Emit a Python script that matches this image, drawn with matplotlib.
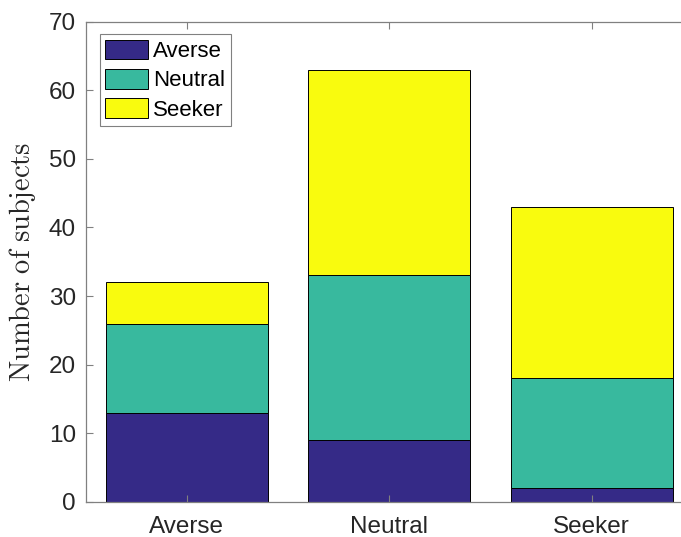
import numpy as np
import matplotlib.pyplot as plt

plt.rcParams['font.family'] = ['Liberation Sans', 'DejaVu Sans']
plt.rcParams['mathtext.fontset'] = 'cm'

# subject counts per group, stacked by sub-type
groups = ['Averse', 'Neutral', 'Seeker']
averse = [13, 9, 2]
neutral = [13, 24, 16]
seeker = [6, 30, 25]
colors = ['#352a87', '#38b99e', '#f9fb0e']

fig = plt.figure(figsize=(6.81, 5.37), dpi=100)
ax = fig.add_axes([85.5 / 681, 35 / 537, 607.5 / 681, 480.5 / 537])

x = np.arange(1, len(groups) + 1)
bottom = np.zeros(len(groups))
for vals, c, name in zip([averse, neutral, seeker], colors, groups):
    ax.bar(x, vals, 0.8, bottom=bottom, color=c, edgecolor='black',
           linewidth=0.7, label=name)
    bottom += np.array(vals)

ax.set_xlim(0.5, 3.5)
ax.set_ylim(0, 70)
ax.set_xticks(x)
ax.set_xticklabels(groups)
ax.set_yticks(np.arange(0, 71, 10))
ax.tick_params(direction='in', length=5, width=0.8, colors='#808080',
               labelcolor='#262626', labelsize=17.5, top=True, right=True, pad=7)
ax.tick_params(axis='x', pad=10)
for s in ax.spines.values():
    s.set_color('#808080')
    s.set_linewidth(0.9)

ax.set_ylabel(r'$\mathrm{Number\ of\ subjects}$', fontsize=20.5, color='#262626',
              labelpad=8)

leg = ax.legend(loc='upper left', bbox_to_anchor=(0.0237, 0.974), fontsize=16,
                handlelength=1.9, handleheight=1.0, labelspacing=0.3,
                handletextpad=0.25, borderpad=0.25, borderaxespad=0,
                fancybox=False, framealpha=1)
leg.get_frame().set_edgecolor('#808080')
leg.get_frame().set_linewidth(0.8)

fig.savefig('out.png', dpi=100)
